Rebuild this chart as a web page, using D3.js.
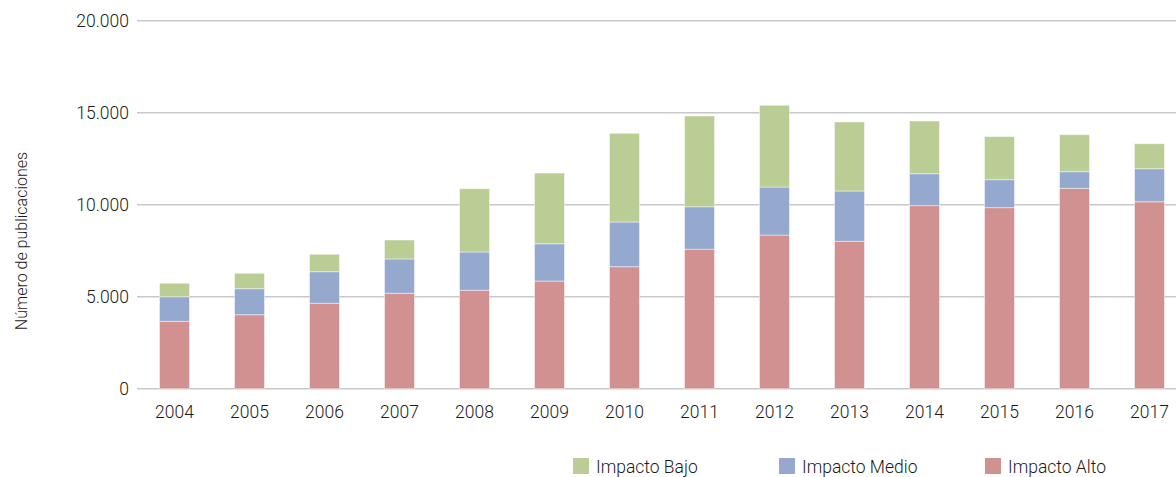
<!DOCTYPE html>
<html><head><meta charset="utf-8">
<script src="https://cdn.jsdelivr.net/npm/d3@7/dist/d3.min.js"></script>
<style>
body{margin:0;background:#fff;}
text{font-family:Roboto,"Open Sans",sans-serif;font-weight:300;fill:#1a1a1a;}
</style></head>
<body><svg id="c" width="1176" height="477"></svg>
<script>
const years = ["2004","2005","2006","2007","2008","2009","2010","2011","2012","2013","2014","2015","2016","2017"];
const impactoAlto  = [3660,4020,4640,5185,5350,5850,6630,7580,8350,8010,9950,9840,10890,10160];
const impactoMedio = [1340,1415,1720,1865,2080,2030,2430,2310,2610,2735,1735,1520,905,1795];
const impactoBajo  = [730,835,945,1030,3440,3840,4820,4930,4440,3750,2865,2340,2010,1360];
const yTicks = [0,5000,10000,15000,20000];
const seriesNames = ["Impacto Alto","Impacto Medio","Impacto Bajo"];
const colors = {"Impacto Alto":"#d19190","Impacto Medio":"#95a9cf","Impacto Bajo":"#bacd94"};

const svg = d3.select("#c");
const x = d3.scaleBand().domain(years).range([137,1187]).paddingInner(0.6).paddingOuter(0.3);
const y = d3.scaleLinear().domain([0,20000]).range([388.7,20.7]);

const fmt = v => d3.format(",")(v).replace(/,/g,".");

// gridlines
svg.append("g").selectAll("line").data(yTicks).join("line")
  .attr("x1",137).attr("x2",1176)
  .attr("y1",d=>y(d)).attr("y2",d=>y(d))
  .attr("stroke","#c8c8c8").attr("stroke-width",1.5);

// y labels
svg.append("g").selectAll("text").data(yTicks).join("text")
  .attr("x",129).attr("y",d=>y(d)).attr("dy","0.35em")
  .attr("text-anchor","end").attr("font-size",17.5).text(fmt);

// stacked bars
const table = years.map((yr,i)=>({year:yr,"Impacto Alto":impactoAlto[i],"Impacto Medio":impactoMedio[i],"Impacto Bajo":impactoBajo[i]}));
const stack = d3.stack().keys(seriesNames)(table);
svg.append("g").selectAll("g").data(stack).join("g")
  .attr("fill",d=>colors[d.key])
  .selectAll("rect").data(d=>d).join("rect")
  .attr("x",d=>x(d.data.year)).attr("width",x.bandwidth())
  .attr("y",d=>y(d[1])).attr("height",d=>y(d[0])-y(d[1]))
  .attr("stroke","#ffffff").attr("stroke-opacity",0.45).attr("stroke-width",1);

// x labels
svg.append("g").selectAll("text").data(years).join("text")
  .attr("x",d=>x(d)+x.bandwidth()/2).attr("y",412).attr("dy","0.35em")
  .attr("text-anchor","middle").attr("font-size",17.5).text(d=>d);

// y title
svg.append("text").attr("transform","translate(27,241) rotate(-90)")
  .attr("text-anchor","middle").attr("font-size",16).attr("font-weight",400)
  .text("Número de publicaciones");

// legend
const legendItems = [["Impacto Bajo",573],["Impacto Medio",779],["Impacto Alto",985]];
const lg = svg.append("g").selectAll("g").data(legendItems).join("g")
  .attr("transform",d=>`translate(${d[1]},458)`);
lg.append("rect").attr("width",16).attr("height",16).attr("fill",d=>colors[d[0]]);
lg.append("text").attr("x",23).attr("y",8.5).attr("dy","0.35em").attr("font-size",17.5).text(d=>d[0]);
</script></body></html>
